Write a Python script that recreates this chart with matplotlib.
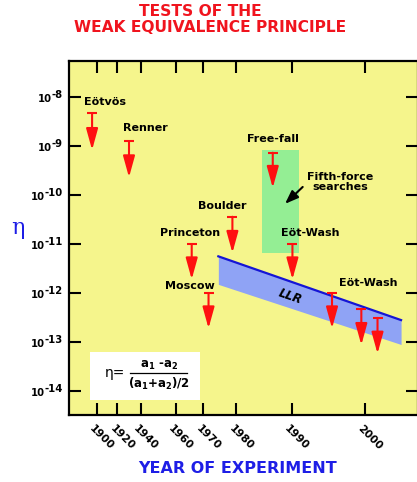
import numpy as np
import matplotlib
matplotlib.use("Agg")
import matplotlib.pyplot as plt
from matplotlib.patches import Rectangle

plt.rcParams['font.family'] = ['DejaVu Sans']
plt.rcParams['mathtext.fontset'] = 'dejavusans'

## data ##
names = ['Eötvös', 'Renner', 'Princeton', 'Moscow', 'Boulder', 'Free-fall',
         'Eöt-Wash', 'Eöt-Wash', '', '']
years = [1895.5, 1930, 1965.8, 1971.6, 1978.9, 1986.6, 1990.1, 1995.5, 1999.5, 2001.7]
eta_top = [4.7e-9, 1.25e-9, 1e-11, 1e-12, 3.6e-11, 7.3e-10, 1e-11, 1e-12, 4.7e-13, 3.1e-13]
eta_tip = [8.3e-10, 2.3e-10, 1.9e-12, 1.9e-13, 6.6e-12, 1.4e-10, 1.9e-12, 1.9e-13, 8.7e-14, 5.8e-14]

# label offsets from arrow top (pixels)
label_dx = [13, 16, -2, -19, -10, 0, 18, 36, 0, 0]
label_dy = [11, 13, 11, 7, 11, 14, 11, 10, 0, 0]

fifth_years = [1984.7, 1991.0]
fifth_eta = [8.3e-10, 6.6e-12]

llr_years = [1974.6, 2004.9]
llr_upper = [5.6e-12, 2.8e-13]
llr_lower = [1.5e-12, 8.9e-14]

xtick_years = [1900, 1920, 1940, 1960, 1970, 1980, 1990, 2000]
ytick_vals = [1e-8, 1e-9, 1e-10, 1e-11, 1e-12, 1e-13, 1e-14]

# hand drawn year axis: year -> axis position
scale_years = np.array([1873, 1900, 1920, 1940, 1960, 1970, 1980, 1990, 2000, 2007.2])
scale_pos = np.array([0, 27.7, 48.3, 71.7, 106.7, 134.3, 167, 222.7, 296, 349])

def fwd(x):
    return np.interp(x, scale_years, scale_pos)

def inv(p):
    return np.interp(p, scale_pos, scale_years)

## colors ##
yellow = '#F5F58C'
red = '#FF1010'
blue_txt = '#1E1EE6'

fig = plt.figure(figsize=(4.17, 4.82), dpi=100)
ax = fig.add_axes([69/417, 67/482, 349/417, 354/482])
ax.set_facecolor(yellow)
ax.set_xscale('function', functions=(fwd, inv))
ax.set_yscale('log')
ax.set_xlim(1873, 2007.2)
ax.set_ylim(10**-14.49, 10**-7.265)

ax.fill_between(fifth_years, fifth_eta[1], fifth_eta[0], color='#94EE94', lw=0, zorder=1)
ax.fill_between(llr_years, llr_lower, llr_upper, color='#8FA3F5', lw=0, zorder=2)
ax.plot(llr_years, llr_upper, color='#1515D5', lw=1.6, zorder=3)

for n, x, t, b, dx, dy in zip(names, years, eta_top, eta_tip, label_dx, label_dy):
    ax.annotate('', xy=(x, b), xytext=(x, t),
                arrowprops=dict(arrowstyle='-|>,head_length=1.3,head_width=0.36',
                                color=red, lw=1.5, shrinkA=0, shrinkB=0), zorder=4)
    ax.plot(x, t, marker='_', ms=7.2, mew=1.5, color=red, zorder=4)
    if n:
        ax.annotate(n, xy=(x, t), xytext=(dx, dy), textcoords='offset pixels',
                    ha='center', va='center', fontsize=8, fontweight='bold', zorder=5)

ax.annotate('', xy=(1988.8, 6.6e-11), xytext=(1991.5, 1.46e-10),
            arrowprops=dict(arrowstyle='-|>,head_length=0.8,head_width=0.3',
                            color='black', lw=1.5, shrinkA=0, shrinkB=0))
ax.text(1996.6, 1.84e-10, 'Fifth-force\nsearches', ha='center', va='center',
        fontsize=8, fontweight='bold', linespacing=1.0)
ax.text(1989.7, 8.5e-13, 'LLR', ha='center', va='center', rotation=-19,
        fontsize=8.5, fontweight='bold', style='italic')

# formula box
ax.add_patch(Rectangle((0.060, 0.042), 0.315, 0.135, transform=ax.transAxes,
                       facecolor='white', edgecolor='none', zorder=5))
ax.text(0.132, 0.119, 'η=', transform=ax.transAxes, ha='center', va='center',
        fontsize=10, zorder=6)
ax.text(0.257, 0.139, r'$\mathbf{a_1}$ -$\mathbf{a_2}$', transform=ax.transAxes,
        ha='center', va='center', fontsize=8.5, fontweight='bold', zorder=6)
ax.plot([0.175, 0.338], [0.119, 0.119], transform=ax.transAxes, color='black',
        lw=0.9, zorder=6)
ax.text(0.257, 0.088, r'($\mathbf{a_1}$+$\mathbf{a_2}$)/2', transform=ax.transAxes,
        ha='center', va='center', fontsize=8.5, fontweight='bold', zorder=6)

# ticks
ax.set_xticks(xtick_years)
ax.set_xticklabels([])
ax.set_yticks(ytick_vals)
ax.set_yticklabels([])
ax.yaxis.set_minor_locator(matplotlib.ticker.NullLocator())
ax.tick_params(direction='in', length=8.5, width=1.5, top=True, right=True)
for s in ax.spines.values():
    s.set_linewidth(1.6)

for yr in xtick_years:
    ax.annotate(str(yr), xy=(yr, 0), xycoords=('data', 'axes fraction'),
                xytext=(-2, -8), textcoords='offset pixels', rotation=-45,
                rotation_mode='anchor', ha='left', va='top',
                fontsize=7.8, fontweight='bold', annotation_clip=False)

for v in ytick_vals:
    sup = ax.annotate(str(int(round(np.log10(v)))), xy=(0, v),
                      xycoords=('axes fraction', 'data'), xytext=(-6, -1.2),
                      textcoords='offset pixels', ha='right', va='baseline',
                      fontsize=7.2, fontweight='bold', annotation_clip=False)
    ax.annotate('10', xy=(0, 0), xycoords=sup, xytext=(0, -2.2),
                textcoords='offset pixels', ha='right', va='baseline',
                fontsize=7.2, fontweight='bold', annotation_clip=False)

fig.text(200/417, 1 - 11.5/482, 'TESTS OF THE', ha='center', va='center',
         color='#F0141E', fontsize=11.2, fontweight='bold')
fig.text(210/417, 1 - 27.5/482, 'WEAK EQUIVALENCE PRINCIPLE', ha='center', va='center',
         color='#F0141E', fontsize=11.2, fontweight='bold')
fig.text(237.5/417, 1 - 468.3/482, 'YEAR OF EXPERIMENT', ha='center', va='center',
         color=blue_txt, fontsize=11.5, fontweight='bold')
fig.text(18/417, 1 - 228/482, 'η', ha='center', va='center', color=blue_txt,
         fontsize=16, family=['DejaVu Serif'])

fig.savefig('out.png', dpi=100)
